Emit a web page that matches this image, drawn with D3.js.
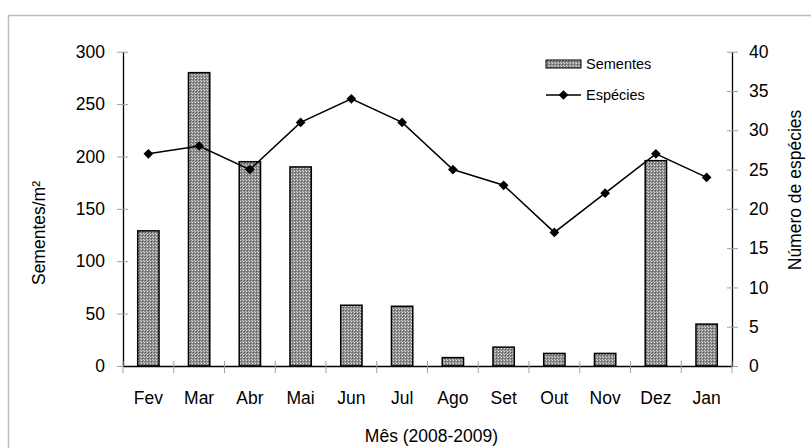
<!DOCTYPE html>
<html>
<head>
<meta charset="utf-8">
<script src="https://cdn.jsdelivr.net/npm/d3@7"></script>
<style>
	body { margin: 0; background: #fff; }
	text { font-family: "Liberation Sans", Arial, sans-serif; fill: #000; }
</style>
</head>
<body>
<div id="grafic"></div>
<script>
const meses = ["Fev", "Mar", "Abr", "Mai", "Jun", "Jul", "Ago", "Set", "Out", "Nov", "Dez", "Jan"];
const sementes = [129, 280, 195, 190, 58, 57, 8, 18, 12, 12, 196, 40];
const especies = [27, 28, 25, 31, 34, 31, 25, 23, 17, 22, 27, 24];
const ticksEsq = [0, 50, 100, 150, 200, 250, 300];
const ticksDir = [0, 5, 10, 15, 20, 25, 30, 35, 40];

const amplada = 811, alçada = 448;
const marge = {dalt: 51.7, dreta: 79, baix: 82, esquerra: 123};

const svg = d3.select("#grafic")
	.append("svg")
	.attr("width", amplada)
	.attr("height", alçada);

// patró quadriculat de les barres
const patro = svg.append("defs").append("pattern")
	.attr("id", "quadres")
	.attr("width", 3)
	.attr("height", 3)
	.attr("patternUnits", "userSpaceOnUse");
patro.append("rect").attr("width", 3).attr("height", 3).attr("fill", "#8a8a8a");
patro.append("rect").attr("width", 1).attr("height", 1).attr("fill", "#e0e0e0");
patro.append("rect").attr("x", 1).attr("y", 1).attr("width", 1).attr("height", 1).attr("fill", "#5e5e5e");
patro.append("rect").attr("x", 2).attr("y", 2).attr("width", 1).attr("height", 1).attr("fill", "#c8c8c8");

// vora
svg.append("path")
	.attr("d", `M8.5,${alçada} V15.5 H${amplada}`)
	.attr("fill", "none")
	.attr("stroke", "#bdbdbd")
	.attr("stroke-width", 1.5);

const x = d3.scaleBand()
	.domain(meses)
	.range([marge.esquerra, amplada - marge.dreta])
	.paddingInner(0.58)
	.paddingOuter(0.29);
const xFons = d3.scaleBand()
	.domain(meses)
	.range([marge.esquerra, amplada - marge.dreta]);
const yE = d3.scaleLinear().domain([0, 300]).range([alçada - marge.baix, marge.dalt]);
const yD = d3.scaleLinear().domain([0, 40]).range([alçada - marge.baix, marge.dalt]);

const base = yE(0);
const xE = marge.esquerra, xD = amplada - marge.dreta;

// barres
svg.append("g")
	.selectAll("rect")
	.data(sementes)
	.join("rect")
		.attr("x", (d, i) => x(meses[i]))
		.attr("y", d => yE(d))
		.attr("width", x.bandwidth())
		.attr("height", d => base - yE(d))
		.attr("fill", "url(#quadres)")
		.attr("stroke", "#000")
		.attr("stroke-width", 1.5);

// eixos
function estil(g, signe) {
	g.select(".domain").attr("stroke", "#000").attr("stroke-width", 1.3);
	g.selectAll(".tick line").attr("stroke", "#a0a0a0").attr("x1", signe * -5);
	g.selectAll(".tick text").attr("font-size", 17.5).attr("font-family", "Liberation Sans, Arial, sans-serif");
}

svg.append("g")
	.attr("transform", `translate(${xE},0)`)
	.call(d3.axisLeft(yE).tickValues(ticksEsq).tickSize(6).tickSizeOuter(0).tickPadding(12))
	.call(g => estil(g, -1));

svg.append("g")
	.attr("transform", `translate(${xD},0)`)
	.call(d3.axisRight(yD).tickValues(ticksDir).tickSize(6).tickSizeOuter(0).tickPadding(11))
	.call(g => estil(g, 1));

const eixX = svg.append("g")
	.attr("transform", `translate(0,${base})`)
	.call(d3.axisBottom(xFons).tickSize(0).tickSizeOuter(0).tickPadding(26));
eixX.select(".domain").attr("stroke", "#000").attr("stroke-width", 1.3);
eixX.selectAll(".tick text").attr("font-size", 17.5).attr("font-family", "Liberation Sans, Arial, sans-serif");

// marques entre mesos
const vores = meses.map(m => xFons(m)).concat([xD]);
svg.append("g")
	.selectAll("line")
	.data(vores)
	.join("line")
		.attr("x1", d => d).attr("x2", d => d)
		.attr("y1", base - 5).attr("y2", base + 7)
		.attr("stroke", "#a0a0a0");

// línia d'espècies
const línia = d3.line()
	.x((d, i) => xFons(meses[i]) + xFons.bandwidth() / 2)
	.y(d => yD(d));
svg.append("path")
	.attr("d", línia(especies))
	.attr("fill", "none")
	.attr("stroke", "#000")
	.attr("stroke-width", 1.5);

const diamant = d3.symbol().type(d3.symbolDiamond2).size(60);
svg.append("g")
	.selectAll("path")
	.data(especies)
	.join("path")
		.attr("transform", (d, i) => `translate(${xFons(meses[i]) + xFons.bandwidth() / 2},${yD(d)})`)
		.attr("d", diamant)
		.attr("fill", "#000");

// títols
svg.append("text")
	.attr("x", (xE + xD) / 2 + 4)
	.attr("y", 442)
	.attr("text-anchor", "middle")
	.attr("font-size", 17.5)
	.text("Mês (2008-2009)");

svg.append("text")
	.attr("transform", "translate(45,233) rotate(-90)")
	.attr("text-anchor", "middle")
	.attr("font-size", 17.5)
	.text("Sementes/m²");

svg.append("text")
	.attr("transform", "translate(801,190) rotate(-90)")
	.attr("text-anchor", "middle")
	.attr("font-size", 17.5)
	.text("Número de espécies");

// llegenda
const lleg = svg.append("g").attr("transform", "translate(546,0)");
lleg.append("rect")
	.attr("x", 0).attr("y", 60)
	.attr("width", 35).attr("height", 8)
	.attr("fill", "url(#quadres)")
	.attr("stroke", "#000")
	.attr("stroke-width", 1);
lleg.append("text")
	.attr("x", 40).attr("y", 64).attr("dy", "0.35em")
	.attr("font-size", 14.5)
	.text("Sementes");
lleg.append("line")
	.attr("x1", 0).attr("x2", 35).attr("y1", 95).attr("y2", 95)
	.attr("stroke", "#000").attr("stroke-width", 1.5);
lleg.append("path")
	.attr("transform", "translate(17.5,95)")
	.attr("d", diamant)
	.attr("fill", "#000");
lleg.append("text")
	.attr("x", 40).attr("y", 95).attr("dy", "0.35em")
	.attr("font-size", 14.5)
	.text("Espécies");
</script>
</body>
</html>
